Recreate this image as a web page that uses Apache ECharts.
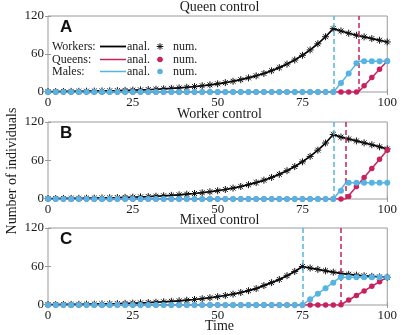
<!DOCTYPE html>
<html><head><meta charset="utf-8">
<script src="https://cdn.jsdelivr.net/npm/echarts@6/dist/echarts.min.js"></script>
<style>html,body{margin:0;padding:0;background:#fff}#c{width:400px;height:335px}</style>
</head><body><div id="c"></div>
<script>
// ---- data ----
const times = [0,2.27,4.55,6.82,9.09,11.36,13.64,15.91,18.18,20.45,22.73,25,27.27,29.55,31.82,34.09,36.36,38.64,40.91,43.18,45.45,47.73,50,52.27,54.55,56.82,59.09,61.36,63.64,65.91,68.18,70.45,72.73,75,77.27,79.55,81.82,84.09,86.36,88.64,90.91,93.18,95.45,97.73,100];

const workersA = [0.64,0.74,0.85,0.97,1.11,1.27,1.46,1.67,1.91,2.19,2.52,2.88,3.31,3.79,4.34,4.98,5.70,6.54,7.49,8.59,9.84,11.28,12.93,14.82,16.98,19.46,22.31,25.57,29.30,33.58,38.49,44.12,50.56,57.95,66.42,76.13,87.25,100,96.4,92.8,89.6,87.0,84.3,81.7,79.0];
const queensA  = [0,0,0,0,0,0,0,0,0,0,0,0,0,0,0,0,0,0,0,0,0,0,0,0,0,0,0,0,0,0,0,0,0,0,0,0,0,0,0,0,0,9.7,22.8,35.9,49.0];
const malesA   = [0,0,0,0,0,0,0,0,0,0,0,0,0,0,0,0,0,0,0,0,0,0,0,0,0,0,0,0,0,0,0,0,0,0,0,0,0,0,14.3,29.4,45.5,48.4,48.4,48.4,48.4];
const switchA  = [84.2, 91.5];
const malesLineA  = [[0,0],[84.2,0],[91.5,48.4],[100,48.4]];
const queensLineA = [[0,0],[91.5,0],[100,49.0]];

const workersB = [0.64,0.74,0.85,0.97,1.11,1.27,1.46,1.67,1.91,2.19,2.52,2.88,3.31,3.79,4.34,4.98,5.70,6.54,7.49,8.59,9.84,11.28,12.93,14.82,16.98,19.46,22.31,25.57,29.30,33.58,38.49,44.12,50.56,57.95,66.42,76.13,87.25,100.5,96.5,93.5,90.5,87.5,84.5,81.3,78.0];
const queensB  = [0,0,0,0,0,0,0,0,0,0,0,0,0,0,0,0,0,0,0,0,0,0,0,0,0,0,0,0,0,0,0,0,0,0,0,0,0,0,0,4.0,19.4,33.5,47.7,61.8,76.0];
const malesB   = [0,0,0,0,0,0,0,0,0,0,0,0,0,0,0,0,0,0,0,0,0,0,0,0,0,0,0,0,0,0,0,0,0,0,0,0,0,0,13.0,25.4,25.4,25.4,25.4,25.4,25.4];
const switchB  = [84.2, 87.8];
const malesLineB  = [[0,0],[84.2,0],[87.8,25.4],[100,25.4]];
const queensLineB = [[0,0],[87.8,0],[100,76.0]];

const workersC = [0.64,0.74,0.85,0.97,1.11,1.27,1.46,1.67,1.91,2.19,2.52,2.88,3.31,3.79,4.34,4.98,5.70,6.54,7.49,8.59,9.84,11.28,12.93,14.82,16.98,19.46,22.31,25.57,30.3,34.8,39.8,45.7,52.3,60.0,57.6,55.5,53.3,51.2,49.2,47.8,46.6,45.5,44.6,43.8,43.2];
const queensC  = [0,0,0,0,0,0,0,0,0,0,0,0,0,0,0,0,0,0,0,0,0,0,0,0,0,0,0,0,0,0,0,0,0,0,0,0,0,0,0.5,7.7,14.8,22.0,29.1,36.3,43.5];
const malesC   = [0,0,0,0,0,0,0,0,0,0,0,0,0,0,0,0,0,0,0,0,0,0,0,0,0,0,0,0,0,0,0,0,0,0,9.0,17.5,26.0,34.5,43.3,43.3,43.3,43.3,43.3,43.3,43.3];
const switchC  = [75, 86.2];
const malesLineC  = [[0,0],[75,0],[86.2,43.3],[100,43.3]];
const queensLineC = [[0,0],[86.2,0],[100,43.5]];

const panelTitles  = ['Queen control','Worker control','Mixed control'];
const panelLetters = ['A','B','C'];
const xTickValues  = [0,25,50,75,100];
const yTickValues  = [0,60,120];
const legendRows   = ['Workers:','Queens:','Males:'];

// ---- styling / layout ----
const FONT = '"Liberation Serif", "DejaVu Serif", serif';
const BLACK = '#000000', RED = '#c9215f', CYAN = '#56b4e2', TXT = '#1a1a1a', AX = '#9a9a9a';
const GL = 48, GR = 9;
const grids = [{left:GL,right:GR,top:16,height:76},{left:GL,right:GR,top:122,height:77},{left:GL,right:GR,top:228,height:77}];
const ASTER = 'path://M5,0L5,10M0,5L10,5M1.5,1.5L8.5,8.5M1.5,8.5L8.5,1.5';

const panels = [
  {w:workersA,q:queensA,m:malesA,ml:malesLineA,ql:queensLineA,s:switchA},
  {w:workersB,q:queensB,m:malesB,ml:malesLineB,ql:queensLineB,s:switchB},
  {w:workersC,q:queensC,m:malesC,ml:malesLineC,ql:queensLineC,s:switchC}
];

const xAxes = [], yAxes = [], series = [];
const xmin = xTickValues[0], xmax = xTickValues[xTickValues.length-1], xint = xTickValues[1]-xTickValues[0];
const ymin = yTickValues[0], ymax = yTickValues[yTickValues.length-1], yint = yTickValues[1]-yTickValues[0];
panels.forEach((p, i) => {
  xAxes.push({gridIndex:i, min:xmin, max:xmax, interval:xint, type:'value', position:'bottom',
    axisLine:{show:false}, splitLine:{show:false},
    axisTick:{show:true, inside:true, length:3, lineStyle:{color:AX}},
    axisLabel:{show:true, margin:4, color:TXT, fontFamily:FONT, fontSize:13}
  });
  yAxes.push({gridIndex:i, min:ymin, max:ymax, interval:yint, type:'value', position:'left',
    axisLine:{show:false}, splitLine:{show:false},
    axisTick:{show:true, inside:true, length:3, lineStyle:{color:AX}},
    axisLabel:{show:true, margin:4, color:TXT, fontFamily:FONT, fontSize:13}
  });
});
// mirrored ticks on top/right
panels.forEach((p, i) => {
  xAxes.push({gridIndex:i, min:xmin, max:xmax, interval:xint, type:'value', position:'top',
    axisLine:{show:false}, splitLine:{show:false}, axisLabel:{show:false},
    axisTick:{show:true, inside:true, length:3, lineStyle:{color:AX}}});
  yAxes.push({gridIndex:i, min:ymin, max:ymax, interval:yint, type:'value', position:'right',
    axisLine:{show:false}, splitLine:{show:false}, axisLabel:{show:false},
    axisTick:{show:true, inside:true, length:3, lineStyle:{color:AX}}});
});

panels.forEach((p, i) => {
  const pts = arr => times.map((t, k) => [t, arr[k]]);
  const common = {xAxisIndex:i, yAxisIndex:i, animation:false, silent:true};
  series.push(Object.assign({}, common, {type:'line', data:pts(p.w), showSymbol:false, symbol:'none',
    lineStyle:{color:BLACK, width:1.7}, z:2}));
  series.push(Object.assign({}, common, {type:'scatter', data:pts(p.w), symbol:ASTER, symbolSize:7,
    itemStyle:{color:'rgba(0,0,0,0)', borderColor:'#111', borderWidth:1, opacity:1}, z:3}));
  series.push(Object.assign({}, common, {type:'line', data:p.ql, showSymbol:false, symbol:'none',
    lineStyle:{color:RED, width:1.5}, z:2,
    markLine:{silent:true, symbol:['none','none'], label:{show:false}, animation:false,
      lineStyle:{color:RED, type:[5,3], width:1.5, opacity:1}, data:[{xAxis:p.s[1]}]}}));
  series.push(Object.assign({}, common, {type:'scatter', data:pts(p.q), symbol:'circle', symbolSize:5.5,
    itemStyle:{color:RED, opacity:1}, z:4}));
  series.push(Object.assign({}, common, {type:'line', data:p.ml, showSymbol:false, symbol:'none',
    lineStyle:{color:CYAN, width:1.5}, z:2,
    markLine:{silent:true, symbol:['none','none'], label:{show:false}, animation:false,
      lineStyle:{color:CYAN, type:[5,3], width:1.5, opacity:1}, data:[{xAxis:p.s[0]}]}}));
  series.push(Object.assign({}, common, {type:'scatter', data:pts(p.m), symbol:'circle', symbolSize:6,
    itemStyle:{color:CYAN, opacity:1}, z:5}));
});

// ---- texts ----
const graphics = [];
const plotCx = GL + (400 - GL - GR) / 2;
const txt = (x, y, text, size, extra) => Object.assign({type:'text', x, y, silent:true,
  style:Object.assign({text, font: size + 'px ' + FONT, fill:TXT, textAlign:'left', textVerticalAlign:'middle', align:'left', verticalAlign:'middle'}, extra||{})});
const titleY = [7, 114, 220];
panelTitles.forEach((t, i) => graphics.push(txt(plotCx, titleY[i], t, 14, {textAlign:'center', align:'center'})));
panelLetters.forEach((t, i) => graphics.push({type:'text', x:60, y:grids[i].top + 11, silent:true,
  style:{text:t, font:'bold 17px "Liberation Sans", Arial, sans-serif', fill:'#111', textAlign:'left', align:'left', textVerticalAlign:'middle', verticalAlign:'middle'}}));
graphics.push(txt(plotCx, 326, 'Time', 14, {textAlign:'center', align:'center'}));
graphics.push(Object.assign(txt(12, 171, 'Number of individuals', 14, {textAlign:'center', align:'center'}), {rotation:Math.PI/2}));

// legend in panel A
const rowY = [46.5, 59.5, 71.5];
const rowColors = [BLACK, RED, CYAN];
legendRows.forEach((lab, r) => {
  const y = rowY[r];
  graphics.push(txt(52, y, lab, 12));
  graphics.push({type:'line', silent:true, shape:{x1:100, y1:y, x2:126, y2:y}, style:{stroke:rowColors[r], lineWidth:r===0?1.8:1.5}});
  graphics.push(txt(127, y, 'anal.', 12));
  if (r === 0) {
    const cx = 160, s = 3.3, d = 2.4;
    [[0,-s,0,s],[-s,0,s,0],[-d,-d,d,d],[-d,d,d,-d]].forEach(a => graphics.push({type:'line', silent:true,
      shape:{x1:cx+a[0], y1:y+a[1], x2:cx+a[2], y2:y+a[3]}, style:{stroke:'#111', lineWidth:1}}));
  } else {
    graphics.push({type:'circle', silent:true, shape:{cx:160, cy:y, r:2.8}, style:{fill:rowColors[r]}});
  }
  graphics.push(txt(173, y, 'num.', 12));
});

const chart = echarts.init(document.getElementById('c'), null, {renderer:'canvas'});
chart.setOption({
  animation:false,
  backgroundColor:'#ffffff',
  grid: grids.map(g => Object.assign({show:true, borderColor:AX, borderWidth:1, backgroundColor:'transparent'}, g)),
  xAxis: xAxes,
  yAxis: yAxes,
  series: series,
  graphic: graphics
});
</script>
</body></html>
